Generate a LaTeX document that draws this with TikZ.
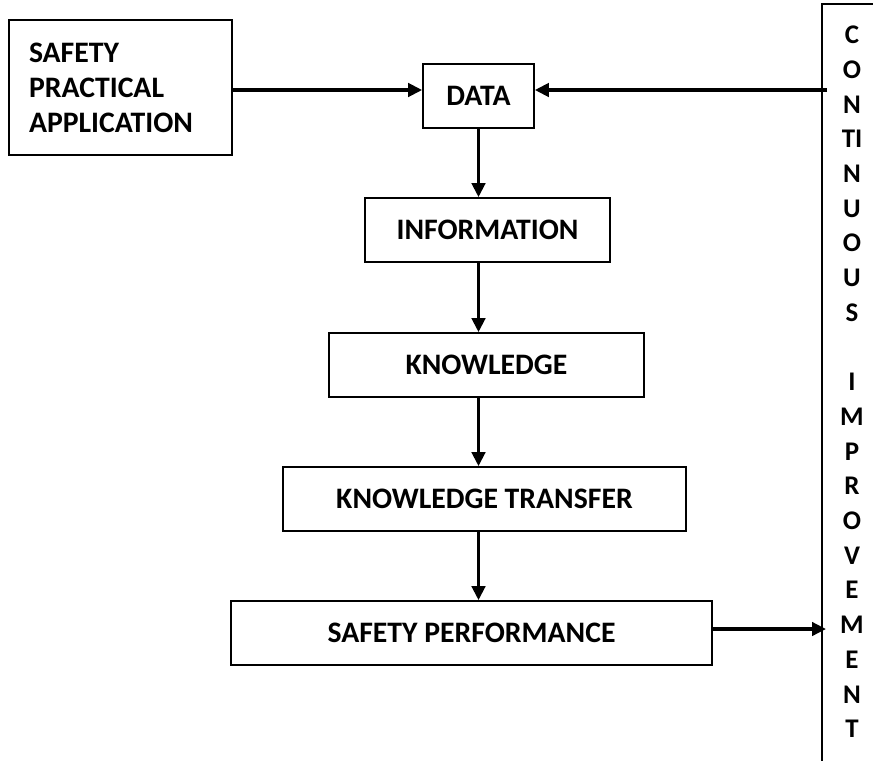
\documentclass[tikz,border=0pt]{standalone}
\usepackage{fontspec}
\setmainfont{Carlito}
\usetikzlibrary{arrows.meta}
\begin{document}
\begin{tikzpicture}[x=0.75pt,y=-0.75pt,
  box/.style={draw,line width=1.25pt,inner sep=0pt,minimum height=48pt,font=\fontsize{22.3}{26.25}\selectfont\bfseries},
  arr/.style={line width=2.5pt,-{Triangle[length=10.5pt,width=10pt]}},
  colline/.style={line width=1.25pt},
  col/.style={font=\fontsize{20.2}{24}\selectfont\bfseries,inner sep=0pt}]
\useasboundingbox (0,0) rectangle (873,761);
\fill[white] (0,0) rectangle (873,761);
% boxes
\node[box,text width=137.25pt,inner xsep=15pt,align=left,minimum height=101.25pt] (spa) at (120.5,87.5) {SAFETY\\PRACTICAL\\APPLICATION};
\node[box,minimum width=83.25pt] (data) at (478.5,96) {DATA};
\node[box,minimum width=183.75pt] (info) at (487.5,230) {INFORMATION};
\node[box,minimum width=236.25pt] (know) at (486.5,365) {KNOWLEDGE};
\node[box,minimum width=302.25pt] (kt) at (484.5,499) {KNOWLEDGE TRANSFER};
\node[box,minimum width=360.75pt] (sp) at (471.5,633) {SAFETY PERFORMANCE};
% right column
\coordinate (ctop) at (822,4);
\coordinate (cbot) at (822,761);
\coordinate (cright) at (873,4);
\draw[colline] (cright) -- (ctop) -- (cbot);
\foreach \t/\r in {C/0,O/1,N/2,TI/3,N/4,U/5,O/6,U/7,S/8,I/10,M/11,P/12,R/13,O/14,V/15,E/16,M/17,E/18,N/19,T/20}
  \node[col] (L\r) at (852,{35+34.7*\r}) {\t};
% connectors
\coordinate (r1) at (827,90);
\coordinate (r2) at (826,629);
\draw[arr] (spa.east |- r1) -- (data.west |- r1);
\draw[arr] (r1) -- (data.east |- r1);
\draw[arr] (data.south) -- (data.south |- info.north);
\draw[arr] (data.south |- info.south) -- (data.south |- know.north);
\draw[arr] (data.south |- know.south) -- (data.south |- kt.north);
\draw[arr] (data.south |- kt.south) -- (data.south |- sp.north);
\draw[arr] (sp.east |- r2) -- (r2);
\end{tikzpicture}
\end{document}
